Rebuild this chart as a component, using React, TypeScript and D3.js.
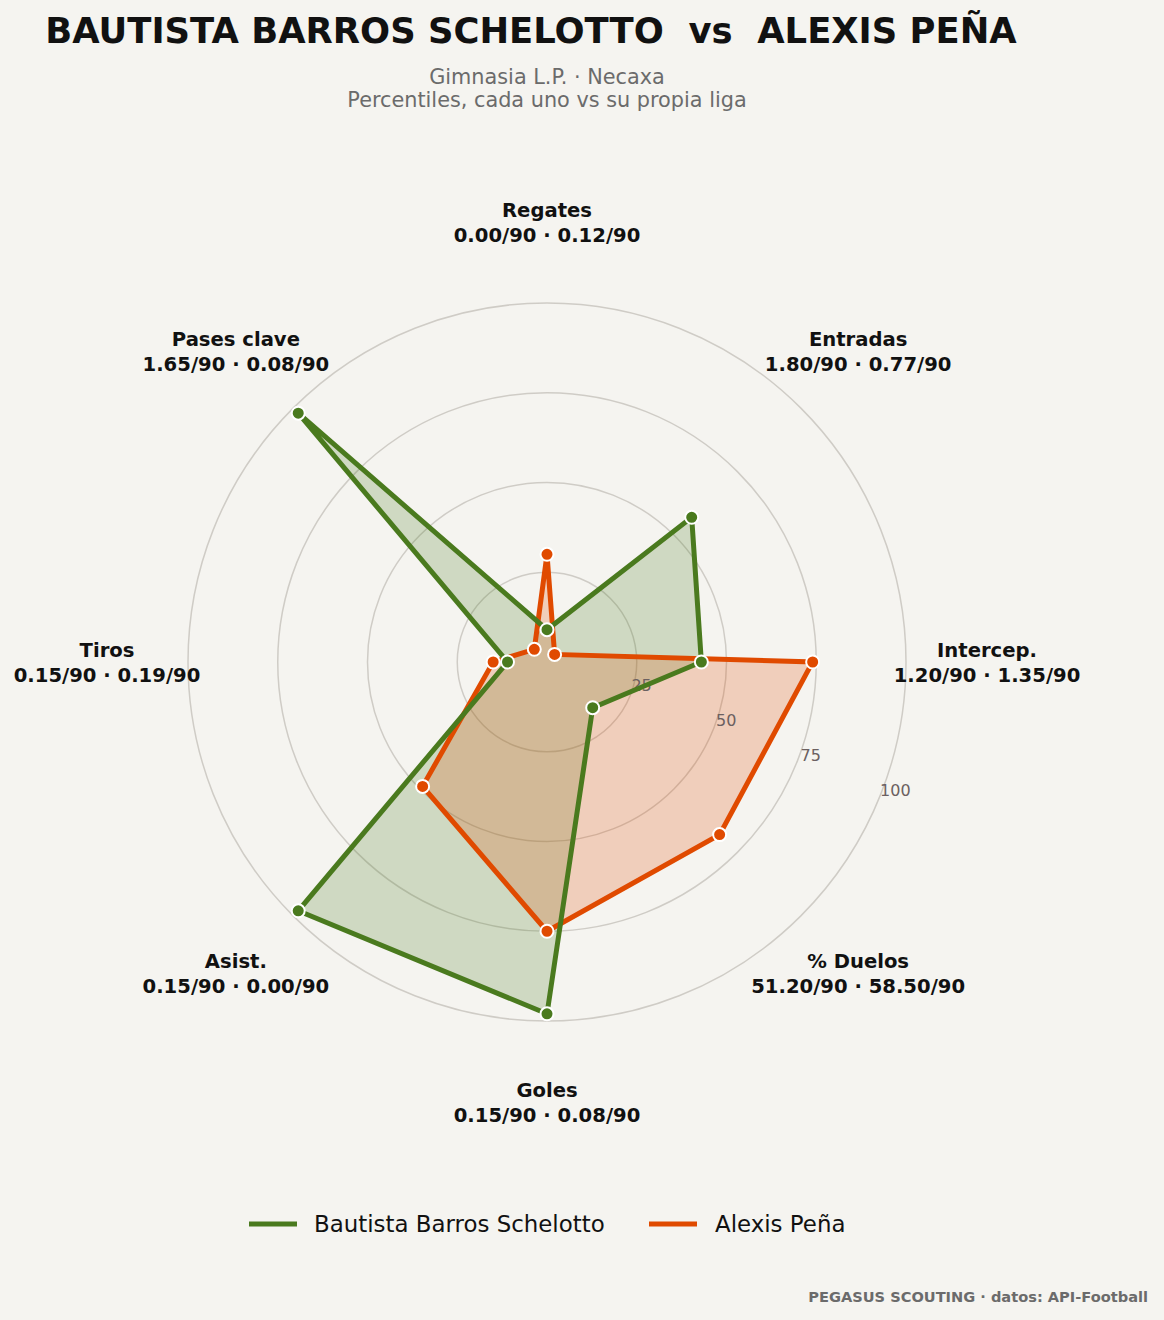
import React from "react";
import * as d3 from "d3";

const categories = ["Regates", "Entradas", "Intercep.", "% Duelos", "Goles", "Asist.", "Tiros", "Pases clave"];
const statLines = [
  "0.00/90 · 0.12/90",
  "1.80/90 · 0.77/90",
  "1.20/90 · 1.35/90",
  "51.20/90 · 58.50/90",
  "0.15/90 · 0.08/90",
  "0.15/90 · 0.00/90",
  "0.15/90 · 0.19/90",
  "1.65/90 · 0.08/90",
];
const playerA = "Bautista Barros Schelotto";
const playerB = "Alexis Peña";
const valuesA = [9, 57, 43, 18, 98, 98, 11, 98];
const valuesB = [30, 3, 74, 68, 75, 49, 15, 5];
const rTicks = [25, 50, 75, 100];

const W = 1164;
const H = 1320;
const cx = 547;
const cy = 662;
const R = 359;
const green = "#4a7a1e";
const orange = "#e04a00";
const bg = "#f5f4f0";
const font = "DejaVu Sans, sans-serif";

export default function App() {
  const r = d3.scaleLinear().domain([0, 100]).range([0, R]);
  const angle = d3
    .scaleLinear()
    .domain([0, categories.length])
    .range([0, 2 * Math.PI]);
  const pt = (i: number, v: number): [number, number] => {
    const a = angle(i);
    return [cx + r(v) * Math.sin(a), cy - r(v) * Math.cos(a)];
  };
  const line = d3.line<[number, number]>().curve(d3.curveLinearClosed);
  const series = [
    { vals: valuesB, color: orange },
    { vals: valuesA, color: green },
  ];
  const labelR = 440;
  const tickAngle = (112.5 * Math.PI) / 180;

  return (
    <svg width={W} height={H} style={{ display: "block", position: "absolute", left: 0, top: 0, background: bg }}>
      <rect width={W} height={H} fill={bg} />
      <text x={531} y={43} textAnchor="middle" fontFamily={font} fontWeight="bold" fontSize={35.4} fill="#111">
        BAUTISTA BARROS SCHELOTTO{"\u00a0\u00a0"}vs{"\u00a0\u00a0"}ALEXIS PEÑA
      </text>
      <text x={547} y={84} textAnchor="middle" fontFamily={font} fontSize={20.8} fill="#6b6b6b">
        Gimnasia L.P. · Necaxa
      </text>
      <text x={547} y={107} textAnchor="middle" fontFamily={font} fontSize={20.8} fill="#6b6b6b">
        Percentiles, cada uno vs su propia liga
      </text>

      {rTicks.map((t) => (
        <circle key={t} cx={cx} cy={cy} r={r(t)} fill="none" stroke="#cfccc6" strokeWidth={1.5} />
      ))}

      {[valuesA, valuesB].map((vals, k) => (
        <path
          key={"f" + k}
          d={line(vals.map((v, i) => pt(i, v))) || ""}
          fill={k === 0 ? green : orange}
          fillOpacity={0.22}
          stroke="none"
        />
      ))}

      {rTicks.map((t) => (
        <text
          key={"t" + t}
          x={cx + r(t) * 1.02 * Math.sin(tickAngle) + 10}
          y={cy - r(t) * 1.02 * Math.cos(tickAngle) - 12 + 5.8}
          textAnchor="middle"
          fontFamily={font}
          fontSize={16}
          fill="#6b6060"
        >
          {t}
        </text>
      ))}

      {series.map((s, k) => (
        <g key={"s" + k}>
          <path d={line(s.vals.map((v, i) => pt(i, v))) || ""} fill="none" stroke={s.color} strokeWidth={5} strokeLinejoin="miter" />
          {s.vals.map((v, i) => {
            const [x, y] = pt(i, v);
            return <circle key={i} cx={x} cy={y} r={6.5} fill={s.color} stroke="#fff" strokeWidth={2} />;
          })}
        </g>
      ))}

      {categories.map((c, i) => {
        const a = angle(i);
        const x = cx + labelR * Math.sin(a);
        const y = cy - labelR * Math.cos(a);
        return (
          <g key={"l" + i}>
            <text x={x} y={y - 5} textAnchor="middle" fontFamily={font} fontWeight="bold" fontSize={19.6} fill="#111">
              {c}
            </text>
            <text x={x} y={y + 20} textAnchor="middle" fontFamily={font} fontWeight="bold" fontSize={19.6} fill="#111">
              {statLines[i]}
            </text>
          </g>
        );
      })}

      <line x1={249} x2={297} y1={1224} y2={1224} stroke={green} strokeWidth={5} />
      <text x={314} y={1232} fontFamily={font} fontSize={22.9} fill="#111">
        {playerA}
      </text>
      <line x1={649} x2={697} y1={1224} y2={1224} stroke={orange} strokeWidth={5} />
      <text x={715} y={1232} fontFamily={font} fontSize={22.9} fill="#111">
        {playerB}
      </text>

      <text x={1148} y={1302} textAnchor="end" fontFamily={font} fontWeight="bold" fontSize={14.6} fill="#6b6b6b">
        PEGASUS SCOUTING · datos: API-Football
      </text>
    </svg>
  );
}
